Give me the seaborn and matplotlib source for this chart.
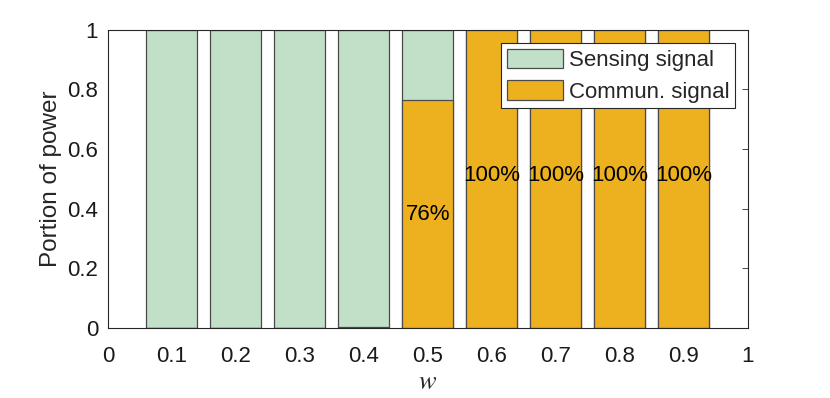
import numpy as np
import pandas as pd
import seaborn as sns
import matplotlib
matplotlib.use("Agg")
import matplotlib.pyplot as plt
from matplotlib.patches import Patch

# weights and the portion of power going to the communication signal
w_values = [0.1, 0.2, 0.3, 0.4, 0.5, 0.6, 0.7, 0.8, 0.9]
commun_part = [0.0, 0.0, 0.0, 0.004, 0.765, 1.0, 1.0, 1.0, 1.0]
sensing_part = [1.0 - c for c in commun_part]
bar_labels = ["", "", "", "", "76%", "100%", "100%", "100%", "100%"]
label_y = [0, 0, 0, 0, 0.382, 0.513, 0.513, 0.513, 0.513]

green = "#c2dfc8"
orange = "#edb120"
edge = "#4a4a4a"

sns.set_style("white")
plt.rcParams["font.family"] = ["Liberation Sans", "DejaVu Sans"]
plt.rcParams["mathtext.fontset"] = "stix"

df = pd.DataFrame({"w": w_values, "commun": commun_part, "total": [1.0] * len(w_values)})

fig = plt.figure(figsize=(8.3, 3.98), dpi=100)
ax = fig.add_axes([0.130, 0.176, 0.771, 0.749])

# total bar (sensing on top) then communication part over it
sns.barplot(data=df, x="w", y="total", native_scale=True, width=0.8, color=green,
            saturation=1, edgecolor=edge, linewidth=0.9, ax=ax)
sns.barplot(data=df, x="w", y="commun", native_scale=True, width=0.8, color=orange,
            saturation=1, edgecolor=edge, linewidth=0.9, ax=ax)

for x, y, t in zip(w_values, label_y, bar_labels):
    if t:
        ax.text(x, y, t, ha="center", va="center", fontsize=16, color="black")

ax.set_xlim(0, 1)
ax.set_ylim(0, 1)
ax.set_xticks(np.arange(0, 1.01, 0.1))
ax.set_xticklabels(["0", "0.1", "0.2", "0.3", "0.4", "0.5", "0.6", "0.7", "0.8", "0.9", "1"])
ax.set_yticks([0, 0.2, 0.4, 0.6, 0.8, 1])
ax.set_yticklabels(["0", "0.2", "0.4", "0.6", "0.8", "1"])
ax.tick_params(direction="in", top=True, right=True, length=4, width=0.6,
               labelsize=16, colors="#262626", labelcolor="#1a1a1a")
ax.tick_params(axis="y", pad=7)
ax.tick_params(axis="x", pad=13)
for s in ax.spines.values():
    s.set_color("#262626")
    s.set_linewidth(0.8)

ax.set_xlabel("$w$", fontsize=19, labelpad=2)
ax.set_ylabel("Portion of power", fontsize=17.5, labelpad=4)

handles = [Patch(facecolor=green, edgecolor=edge, linewidth=0.9, label="Sensing signal"),
           Patch(facecolor=orange, edgecolor=edge, linewidth=0.9, label="Commun. signal")]
leg = ax.legend(handles=handles, loc="upper right", bbox_to_anchor=(0.980, 0.956),
                fontsize=16, frameon=True, fancybox=False, framealpha=1,
                handlelength=2.55, handleheight=1.0, handletextpad=0.25,
                borderpad=0.25, labelspacing=0.4, borderaxespad=0)
leg.get_frame().set_edgecolor("#262626")
leg.get_frame().set_linewidth(0.8)

fig.savefig("out.png", dpi=100)
